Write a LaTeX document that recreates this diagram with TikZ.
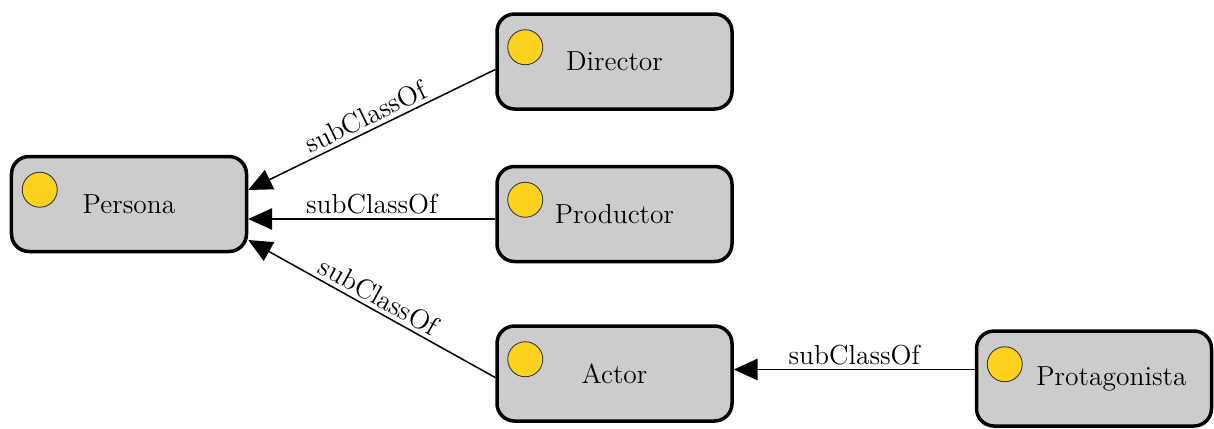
\documentclass[tikz,border=0pt]{standalone}
\usetikzlibrary{calc,arrows.meta}
\definecolor{boxgray}{HTML}{CCCCCC}
\definecolor{dotyellow}{HTML}{FFD21F}
\begin{document}
\begin{tikzpicture}[x=0.4pt,y=-0.4pt,
  cls/.style={draw=black,fill=boxgray,line width=1.4pt,rounded corners=7pt,
    minimum width=94pt,minimum height=38pt,inner sep=0pt,
    font=\fontsize{11}{13}\selectfont},
  dot/.style={circle,draw=black!80,fill=dotyellow,line width=0.35pt,
    minimum size=14pt,inner sep=0pt},
  rel/.style={line width=0.6pt,-{Triangle[length=9.5pt,width=8.5pt]}},
  lbl/.style={font=\fontsize{11}{13}\selectfont,inner sep=1.5pt}]
\useasboundingbox (0,0) rectangle (1214,428);
\node[cls] (persona) at (129,204) {\raisebox{-1pt}{Persona}};
\node[cls] (director) at (614.5,61.5) {\raisebox{-1pt}{Director}};
\node[cls] (productor) at (614.5,214) {\raisebox{-1pt}{Productor}};
\node[cls] (actor) at (614.5,373.5) {\raisebox{-1pt}{Actor}};
\node[cls] (protag) at (1094,378.5) {\hspace*{14pt}\raisebox{-1pt}{Protagonista}};
\foreach \n in {persona,director,productor,actor,protag}{
  \node[dot] (\n-dot) at ($(\n.north west)+(30,35)$) {};
}
\coordinate (pA) at ($(persona.east)+(0,-14)$);
\coordinate (pB) at ($(persona.east)+(0,15)$);
\coordinate (pC) at ($(persona.east)+(0,36)$);
\coordinate (dS) at ($(director.west)+(0,8)$);
\coordinate (aS) at ($(actor.west)+(0,4)$);
\coordinate (prS) at ($(protag.west)+(0,-9)$);
\draw[rel] (dS) -- node[lbl,sloped,above] {subClassOf} (pA);
\draw[rel] (productor.west |- pB) -- node[lbl,above] {subClassOf} (pB);
\draw[rel] (aS) -- node[lbl,sloped,above] {subClassOf} (pC);
\draw[rel] (prS) -- node[lbl,above] {subClassOf} (actor.east |- prS);
\end{tikzpicture}
\end{document}
